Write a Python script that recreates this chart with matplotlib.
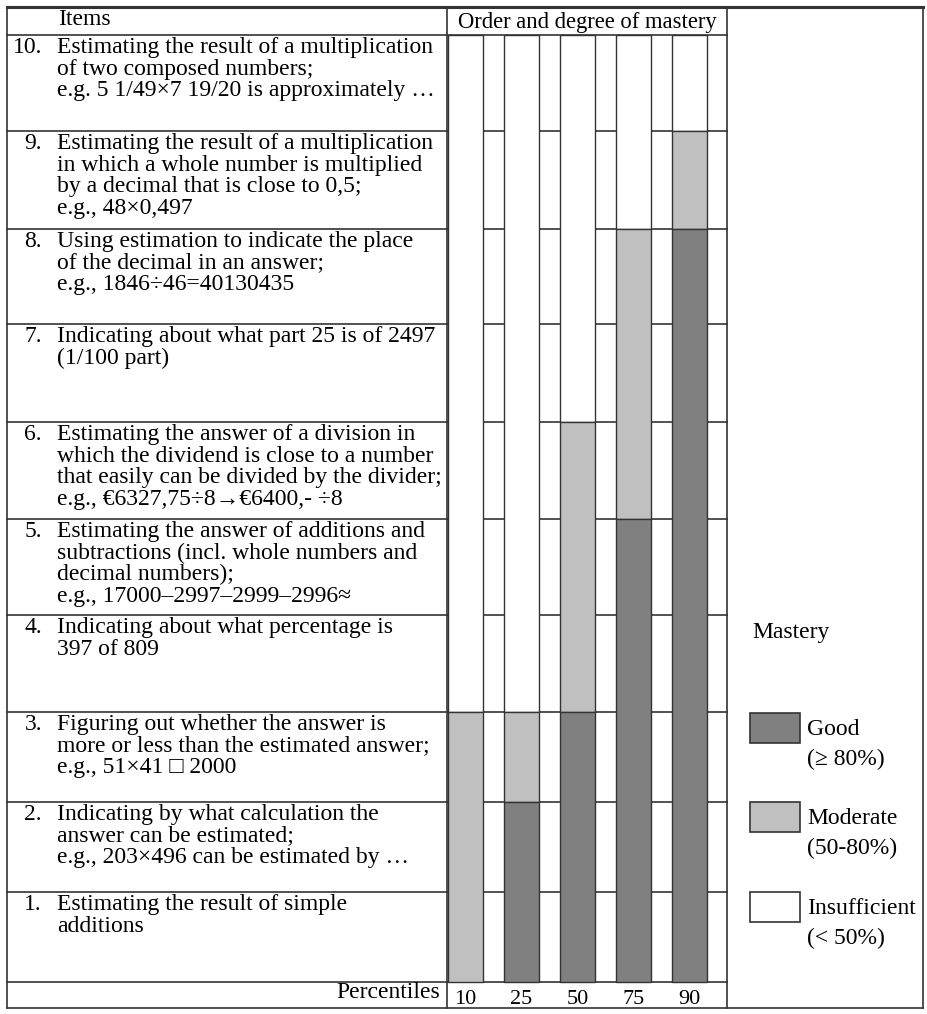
import matplotlib.pyplot as plt
from matplotlib.patches import Rectangle

# ---- data ----
percentiles = ['10', '25', '50', '75', '90']
item_numbers = ['10.', '9.', '8.', '7.', '6.', '5.', '4.', '3.', '2.', '1.']
item_texts = [
    ['Estimating the result of a multiplication',
     'of two composed numbers;',
     'e.g. 5 1/49×7 19/20 is approximately …'],
    ['Estimating the result of a multiplication',
     'in which a whole number is multiplied',
     'by a decimal that is close to 0,5;',
     'e.g., 48×0,497'],
    ['Using estimation to indicate the place',
     'of the decimal in an answer;',
     'e.g., 1846÷46=40130435'],
    ['Indicating about what part 25 is of 2497',
     '(1/100 part)'],
    ['Estimating the answer of a division in',
     'which the dividend is close to a number',
     'that easily can be divided by the divider;',
     'e.g., €6327,75÷8→€6400,- ÷8'],
    ['Estimating the answer of additions and',
     'subtractions (incl. whole numbers and',
     'decimal numbers);',
     'e.g., 17000–2997–2999–2996≈'],
    ['Indicating about what percentage is',
     '397 of 809'],
    ['Figuring out whether the answer is',
     'more or less than the estimated answer;',
     'e.g., 51×41 □ 2000'],
    ['Indicating by what calculation the',
     'answer can be estimated;',
     'e.g., 203×496 can be estimated by …'],
    ['Estimating the result of simple',
     'additions'],
]
# mastery level per item (top row = item 10 ... bottom = item 1)
# 0 = insufficient, 1 = moderate, 2 = good
mastery = {
    '10': [0, 0, 0, 0, 0, 0, 0, 1, 1, 1],
    '25': [0, 0, 0, 0, 0, 0, 0, 1, 2, 2],
    '50': [0, 0, 0, 0, 1, 1, 1, 2, 2, 2],
    '75': [0, 0, 1, 1, 1, 2, 2, 2, 2, 2],
    '90': [0, 1, 2, 2, 2, 2, 2, 2, 2, 2],
}
legend_labels = ['Good', 'Moderate', 'Insufficient']
legend_ranges = ['(≥ 80%)', '(50-80%)', '(< 50%)']
legend_levels = [2, 1, 0]

# ---- style / layout (pixel space) ----
level_colors = {0: '#ffffff', 1: '#c0c0c0', 2: '#808080'}
line_col = '#333333'
fam = ['Liberation Serif', 'DejaVu Sans']
fs = 17
W, H = 927, 1014
row_edges = [35, 131, 229, 324, 422, 519, 615, 712, 802, 892, 982]
x_left, x_split, x_right, x_leg = 7, 447, 727, 923
y_top, y_bot = 7, 1008
bar_x0, bar_step, bar_w = 448, 56, 35

fig = plt.figure(figsize=(W / 100, H / 100), dpi=100)
ax = fig.add_axes([0, 0, 1, 1])
ax.set_xlim(0, W)
ax.set_ylim(H, 0)
ax.axis('off')

# table lines
for y in row_edges:
    ax.plot([x_left, x_right], [y, y], color=line_col, lw=1.2, zorder=1)
ax.plot([x_left, x_leg], [y_top, y_top], color=line_col, lw=2.2, zorder=1)
ax.plot([x_left, x_leg], [y_bot, y_bot], color=line_col, lw=1.2, zorder=1)
for x in [x_left, x_split, x_right, x_leg]:
    ax.plot([x, x], [y_top, y_bot], color=line_col, lw=1.2, zorder=1)

# bars: contiguous runs of the same level
for i, p in enumerate(percentiles):
    x0 = bar_x0 + i * bar_step
    lv = mastery[p]
    j = 0
    while j < len(lv):
        k = j
        while k + 1 < len(lv) and lv[k + 1] == lv[j]:
            k += 1
        top, bot = row_edges[j], row_edges[k + 1]
        ax.bar(x0 + bar_w / 2, bot - top, bottom=top, width=bar_w,
               color=level_colors[lv[j]], edgecolor=line_col, linewidth=1.0,
               zorder=2)
        j = k + 1
    ax.text(x0 + bar_w / 2, 1004, p, ha='center', va='baseline',
            fontsize=16, family=fam)

# item texts
for r, (num, lines) in enumerate(zip(item_numbers, item_texts)):
    base = row_edges[r] + 18
    ax.text(42, base, num, ha='right', va='baseline', fontsize=fs, family=fam)
    for j, s in enumerate(lines):
        ax.text(57, base + j * 21.6, s, ha='left', va='baseline',
                fontsize=fs, family=fam)

# headers
ax.text(58, 25, 'Items', ha='left', va='baseline', fontsize=fs, family=fam)
ax.text((x_split + x_right) / 2, 28, 'Order and degree of mastery',
        ha='center', va='baseline', fontsize=16.3, family=fam)
ax.text(440, 998, 'Percentiles', ha='right', va='baseline',
        fontsize=fs, family=fam)

# legend
ax.text(752, 638, 'Mastery', ha='left', va='baseline', fontsize=fs, family=fam)
leg_tops = [713, 802, 892]
for lab, rng, lev, t in zip(legend_labels, legend_ranges, legend_levels, leg_tops):
    ax.add_patch(Rectangle((750, t), 50, 30, facecolor=level_colors[lev],
                           edgecolor=line_col, linewidth=1.2, zorder=2))
    ax.text(807, t + 22, lab, ha='left', va='baseline', fontsize=fs, family=fam)
    ax.text(807, t + 52, rng, ha='left', va='baseline', fontsize=fs, family=fam)

fig.savefig('out.png', dpi=100)
